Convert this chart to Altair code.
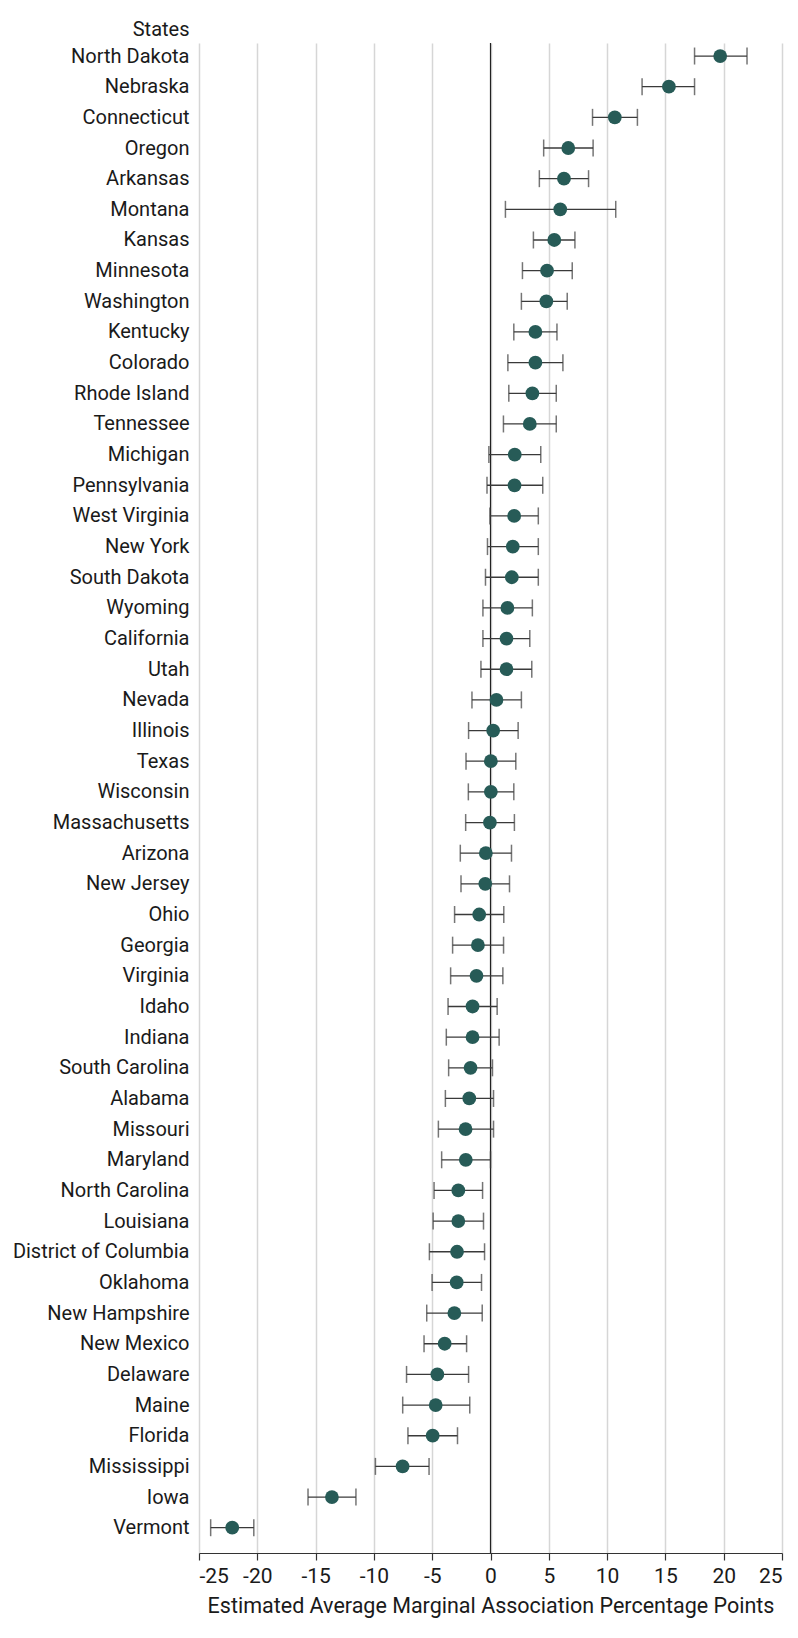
import altair as alt
import pandas as pd

states = ["North Dakota", "Nebraska", "Connecticut", "Oregon", "Arkansas", "Montana",
          "Kansas", "Minnesota", "Washington", "Kentucky", "Colorado", "Rhode Island",
          "Tennessee", "Michigan", "Pennsylvania", "West Virginia", "New York",
          "South Dakota", "Wyoming", "California", "Utah", "Nevada", "Illinois", "Texas",
          "Wisconsin", "Massachusetts", "Arizona", "New Jersey", "Ohio", "Georgia",
          "Virginia", "Idaho", "Indiana", "South Carolina", "Alabama", "Missouri",
          "Maryland", "North Carolina", "Louisiana", "District of Columbia", "Oklahoma",
          "New Hampshire", "New Mexico", "Delaware", "Maine", "Florida", "Mississippi",
          "Iowa", "Vermont"]

estimate = [19.7, 15.3, 10.66, 6.67, 6.3, 5.98, 5.47, 4.85, 4.79, 3.85, 3.85, 3.59,
            3.37, 2.08, 2.06, 2.03, 1.91, 1.83, 1.45, 1.37, 1.37, 0.51, 0.23, 0.03,
            0.03, -0.05, -0.4, -0.45, -0.97, -1.08, -1.2, -1.54, -1.54, -1.71, -1.82,
            -2.14, -2.12, -2.76, -2.76, -2.87, -2.9, -3.1, -3.93, -4.56, -4.7, -4.96,
            -7.54, -13.6, -22.15]

lower = [17.5, 13.0, 8.75, 4.56, 4.19, 1.28, 3.68, 2.74, 2.65, 2.0, 1.49, 1.57,
         1.11, -0.14, -0.3, -0.05, -0.26, -0.43, -0.65, -0.65, -0.82, -1.59, -1.88,
         -2.1, -1.9, -2.13, -2.59, -2.53, -3.08, -3.25, -3.42, -3.64, -3.79, -3.59,
         -3.87, -4.47, -4.19, -4.84, -4.92, -5.24, -5.01, -5.47, -5.7, -7.2, -7.53,
         -7.08, -9.87, -15.65, -24.0]

upper = [22.0, 17.5, 12.6, 8.8, 8.41, 10.74, 7.24, 7.01, 6.58, 5.7, 6.21, 5.64,
         5.64, 4.31, 4.48, 4.1, 4.1, 4.1, 3.59, 3.37, 3.54, 2.65, 2.37, 2.17, 2.0,
         2.05, 1.8, 1.63, 1.14, 1.12, 1.06, 0.57, 0.74, 0.17, 0.26, 0.26, 0.0,
         -0.68, -0.6, -0.51, -0.77, -0.71, -2.05, -1.88, -1.78, -2.83, -5.27, -11.54,
         -20.3]

x_ticks = [-25, -20, -15, -10, -5, 0, 5, 10, 15, 20, 25]

df = pd.DataFrame({"state": states, "est": estimate, "lo": lower, "hi": upper})
zero_df = pd.DataFrame({"v": [0]})

FONT = "Roboto"
DOT = "#275b57"
BAR = "#3a3a3a"

x_scale = alt.Scale(domain=[-25, 25], nice=False, zero=False)
y_enc = alt.Y(
    "state:N",
    sort=states,
    scale=alt.Scale(type="point", padding=0.625, align=0.34),
    axis=alt.Axis(
        title="States", titleAngle=0, titleAlign="right", titleBaseline="middle",
        titleX=-10, titleY=-14, titleFont=FONT, titleFontSize=20,
        titleFontWeight="normal", titleColor="#1a1a1a",
        labelFont=FONT, labelFontSize=20, labelColor="#1a1a1a", labelLimit=400,
        labelPadding=10, ticks=False, domain=False, grid=False,
    ),
)

x_axis = alt.Axis(
    values=x_ticks, grid=True, gridColor="#d6d6d6", gridWidth=1.5,
    domain=True, domainColor="#333333", domainWidth=1.2,
    ticks=True, tickColor="#333333", tickSize=7, tickWidth=1.2,
    labelFont=FONT, labelFontSize=21, labelColor="#1a1a1a", labelPadding=5,
    labelExpr="datum.value + ''",
    title="Estimated Average Marginal Association Percentage Points",
    titleFont=FONT, titleFontSize=21.5, titleFontWeight="normal",
    titleColor="#1a1a1a", titlePadding=9,
)

base = alt.Chart(df)

grid_layer = alt.Chart(zero_df).mark_rule(color="#222222", strokeWidth=1.2).encode(
    x=alt.X("v:Q", scale=x_scale, axis=x_axis)
)

whisk = base.mark_rule(color=BAR, strokeWidth=1.3).encode(
    x=alt.X("lo:Q", scale=x_scale), x2="hi:Q", y=y_enc
)
cap_lo = base.mark_tick(color=BAR, thickness=1.5, size=17, orient="vertical").encode(
    x=alt.X("lo:Q", scale=x_scale), y=y_enc
)
cap_hi = base.mark_tick(color=BAR, thickness=1.5, size=17, orient="vertical").encode(
    x=alt.X("hi:Q", scale=x_scale), y=y_enc
)
dots = base.mark_circle(color=DOT, opacity=1, size=190).encode(
    x=alt.X("est:Q", scale=x_scale), y=y_enc
)

chart = alt.layer(grid_layer, whisk, cap_lo, cap_hi, dots).properties(
    width=583, height=1510,
    autosize=alt.AutoSizeParams(type="none"),
    padding={"left": 191, "top": 35, "right": 4, "bottom": 80},
).configure_view(stroke=None)

chart.save("out.html", embed_options={"renderer": "svg", "actions": False})
